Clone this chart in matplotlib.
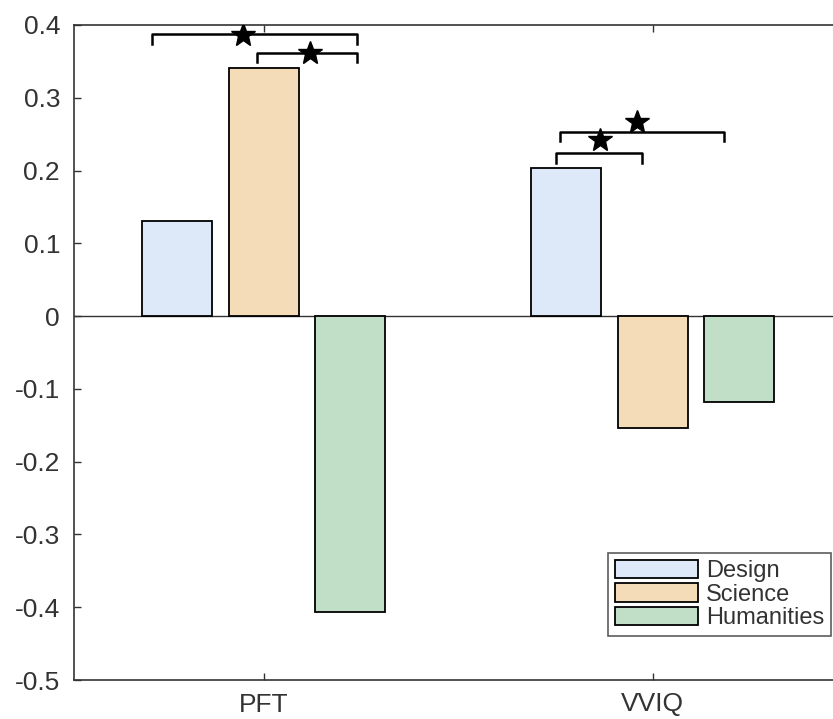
import matplotlib
matplotlib.use('Agg')
import matplotlib.pyplot as plt

plt.rcParams['font.family'] = ['Liberation Sans', 'DejaVu Sans']

# data
groups = ['PFT', 'VVIQ']
series = ['Design', 'Science', 'Humanities']
design = [0.130, 0.203]
science = [0.341, -0.154]
humanities = [-0.407, -0.118]
colors = ['#dde9f8', '#f3dcb7', '#c1dec6']

# significance brackets: (x_left, x_right, y, star_x, star_y)
brackets = [
    (0.712, 1.239, 0.387, 0.946, 0.386),
    (0.982, 1.239, 0.362, 1.118, 0.362),
    (1.763, 2.183, 0.253, 1.961, 0.267),
    (1.751, 1.974, 0.224, 1.864, 0.242),
]
tick_drop = 0.013

W, H = 833, 719
fig = plt.figure(figsize=(W / 100, H / 100), dpi=100)
left, right, top, bottom = 74, 847, 25, 680
ax = fig.add_axes([left / W, 1 - bottom / H, (right - left) / W, (bottom - top) / H])

axis_col = '#333333'
offsets = [-0.222, 0.0, 0.222]
width = 0.18
pos = [1, 2]
for vals, off, c, name in zip([design, science, humanities], offsets, colors, series):
    ax.bar([p + off for p in pos], vals, width=width, color=c, edgecolor='black',
           linewidth=1.3, label=name, zorder=3)

ax.axhline(0, color=axis_col, linewidth=1.0, zorder=2)

for xl, xr, y, sx, sy in brackets:
    ax.plot([xl, xl, xr, xr], [y - tick_drop, y, y, y - tick_drop], color='black',
            linewidth=1.8, solid_joinstyle='round', zorder=4)
    ax.plot(sx, sy, marker='*', color='black', markersize=18, zorder=5)

ax.set_xlim(0.512, 2.5)
ax.set_ylim(-0.5, 0.4)
ax.set_xticks(pos)
ax.set_xticklabels(groups)
ax.set_yticks([-0.5, -0.4, -0.3, -0.2, -0.1, 0, 0.1, 0.2, 0.3, 0.4])
ax.set_yticklabels(['-0.5', '-0.4', '-0.3', '-0.2', '-0.1', '0', '0.1', '0.2', '0.3', '0.4'])
ax.tick_params(direction='in', length=5, width=1, colors=axis_col, labelsize=19,
               top=True, right=False)
ax.tick_params(axis='y', pad=10)
ax.tick_params(axis='x', pad=9)
ax.spines['right'].set_visible(False)
for s in ax.spines.values():
    s.set_color(axis_col)
    s.set_linewidth(1.2)

leg = ax.legend(loc='upper left', bbox_to_anchor=(608 / W, 1 - 552.7 / H),
                bbox_transform=fig.transFigure, fontsize=17, frameon=True,
                fancybox=False, edgecolor=axis_col, handlelength=3.5,
                handleheight=0.82, handletextpad=0.35, labelspacing=0.05,
                borderpad=0.3, borderaxespad=0)
leg.get_frame().set_linewidth(1.2)
for t in leg.get_texts():
    t.set_color(axis_col)

fig.savefig('out.png', dpi=100)
